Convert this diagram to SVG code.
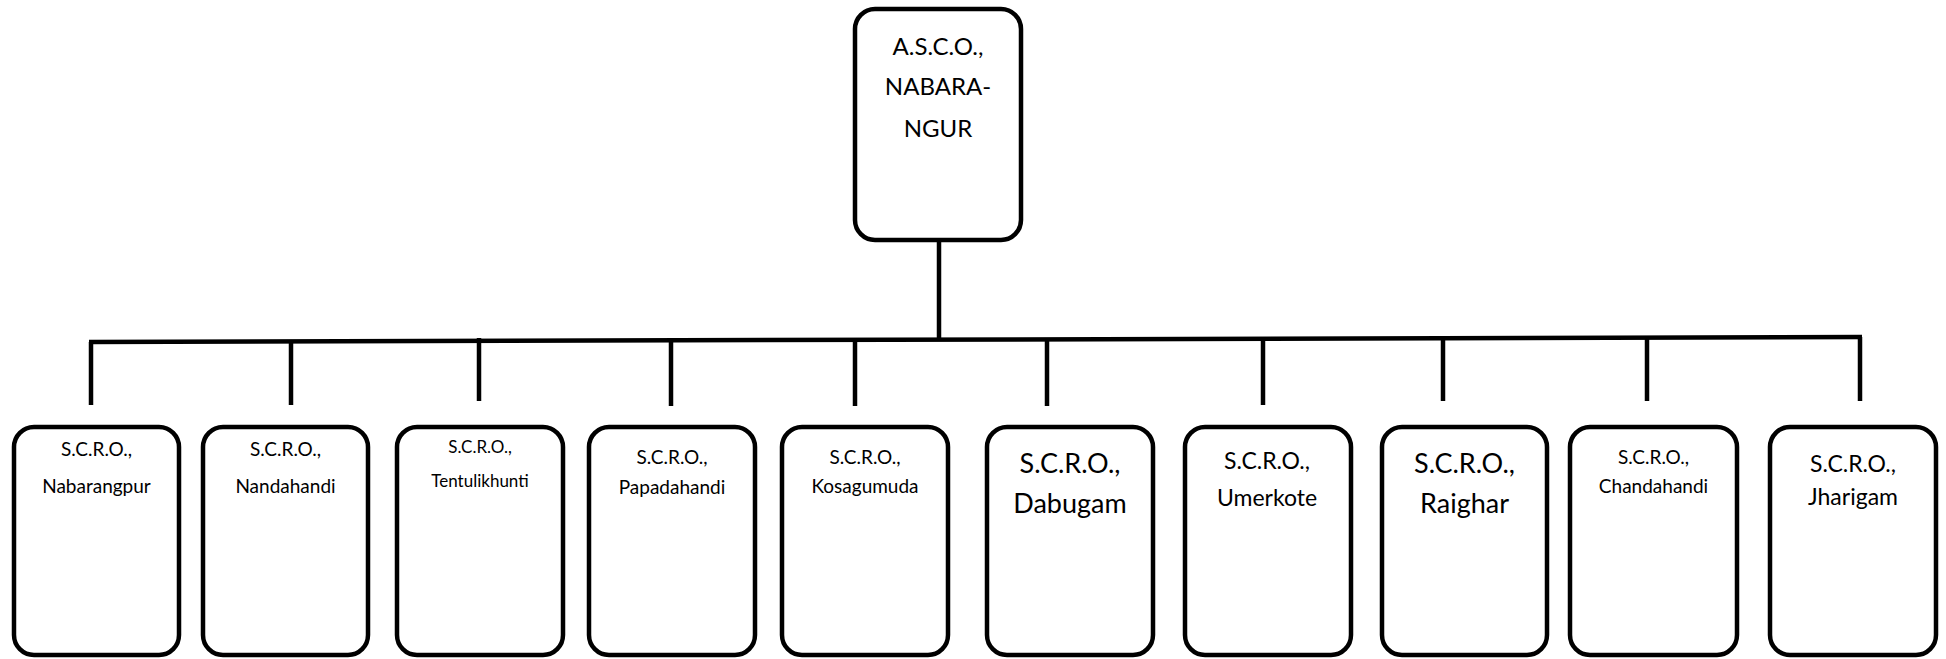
<svg xmlns="http://www.w3.org/2000/svg" width="1946" height="659" viewBox="0 0 1946 659">
<style>
  .box { fill: #ffffff; stroke: #000000; stroke-width: 4.5; }
  .conn { stroke: #000000; stroke-width: 4.5; fill: none; stroke-linecap: butt; }
  text { font-family: Lato, "Liberation Sans", sans-serif; fill: #000000; text-anchor: middle; }
  .s19 { font-size: 19px; }
  .s17 { font-size: 17px; }
  .s23 { font-size: 23px; }
  .s27 { font-size: 27px; }
  .s24 { font-size: 24px; }
</style>
<rect width="1946" height="659" fill="#ffffff"/>
<g id="connectors">
  <line class="conn" x1="939" y1="241" x2="939" y2="341"/>
  <line class="conn" x1="89" y1="342" x2="1862" y2="337"/>
  <line class="conn" x1="91" y1="342" x2="91" y2="405"/>
  <line class="conn" x1="291" y1="341" x2="291" y2="405"/>
  <line class="conn" x1="479" y1="338" x2="479" y2="401"/>
  <line class="conn" x1="671" y1="341" x2="671" y2="406"/>
  <line class="conn" x1="855" y1="340" x2="855" y2="406"/>
  <line class="conn" x1="1047" y1="340" x2="1047" y2="406"/>
  <line class="conn" x1="1263" y1="339" x2="1263" y2="405"/>
  <line class="conn" x1="1443" y1="339" x2="1443" y2="401"/>
  <line class="conn" x1="1647" y1="338" x2="1647" y2="401"/>
  <line class="conn" x1="1860" y1="337" x2="1860" y2="401"/>
</g>
<g id="asco">
  <rect class="box" x="855" y="9" width="166" height="231" rx="20"/>
  <text class="s24" x="938" y="55">A.S.C.O.,</text>
  <text class="s24" x="938" y="95">NABARA-</text>
  <text class="s24" x="938" y="137">NGUR</text>
</g>
<g id="scro-nabarangpur">
  <rect class="box" x="14" y="427" width="165" height="228" rx="20"/>
  <text class="s19" x="96.5" y="456">S.C.R.O.,</text>
  <text class="s19" x="96.5" y="493">Nabarangpur</text>
</g>
<g id="scro-nandahandi">
  <rect class="box" x="203" y="427" width="165" height="228" rx="20"/>
  <text class="s19" x="285.5" y="456">S.C.R.O.,</text>
  <text class="s19" x="285.5" y="493">Nandahandi</text>
</g>
<g id="scro-tentulikhunti">
  <rect class="box" x="397" y="427" width="166" height="228" rx="20"/>
  <text class="s17" x="480" y="453">S.C.R.O.,</text>
  <text class="s17" x="480" y="487">Tentulikhunti</text>
</g>
<g id="scro-papadahandi">
  <rect class="box" x="589" y="427" width="166" height="228" rx="20"/>
  <text class="s19" x="672" y="464">S.C.R.O.,</text>
  <text class="s19" x="672" y="494">Papadahandi</text>
</g>
<g id="scro-kosagumuda">
  <rect class="box" x="782" y="427" width="166" height="228" rx="20"/>
  <text class="s19" x="865" y="464">S.C.R.O.,</text>
  <text class="s19" x="865" y="493">Kosagumuda</text>
</g>
<g id="scro-dabugam">
  <rect class="box" x="987" y="427" width="166" height="228" rx="20"/>
  <text class="s27" x="1070" y="473">S.C.R.O.,</text>
  <text class="s27" x="1070" y="513">Dabugam</text>
</g>
<g id="scro-umerkote">
  <rect class="box" x="1185" y="427" width="166" height="228" rx="20"/>
  <text class="s23" x="1267" y="469">S.C.R.O.,</text>
  <text class="s23" x="1267" y="506">Umerkote</text>
</g>
<g id="scro-raighar">
  <rect class="box" x="1382" y="427" width="165" height="228" rx="20"/>
  <text class="s27" x="1464.5" y="473">S.C.R.O.,</text>
  <text class="s27" x="1464.5" y="513">Raighar</text>
</g>
<g id="scro-chandahandi">
  <rect class="box" x="1570" y="427" width="167" height="228" rx="20"/>
  <text class="s19" x="1653.5" y="464">S.C.R.O.,</text>
  <text class="s19" x="1653.5" y="493">Chandahandi</text>
</g>
<g id="scro-jharigam">
  <rect class="box" x="1770" y="427" width="166" height="228" rx="20"/>
  <text class="s23" x="1853" y="472">S.C.R.O.,</text>
  <text class="s23" x="1853" y="505">Jharigam</text>
</g>
</svg>
